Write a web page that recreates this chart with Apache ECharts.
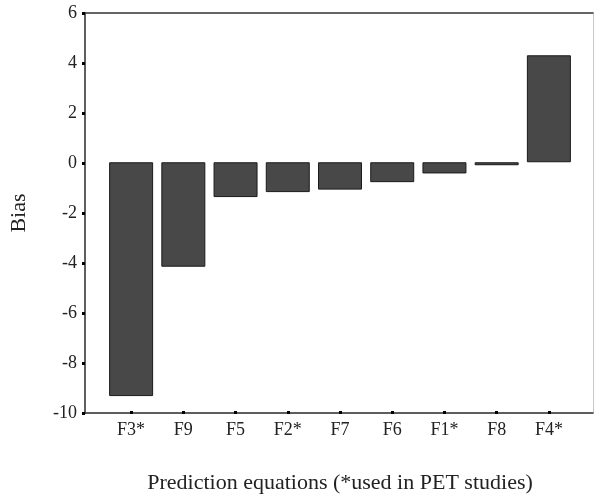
<!DOCTYPE html>
<html><head><meta charset="utf-8">
<script src="https://cdn.jsdelivr.net/npm/echarts@6/dist/echarts.min.js"></script>
<style>html,body{margin:0;padding:0;background:#fff}#c{width:594px;height:499px}</style>
</head><body><div id="c"></div>
<script>
var categories = ["F3*", "F9", "F5", "F2*", "F7", "F6", "F1*", "F8", "F4*"];
var biasValues = [-9.4, -4.2, -1.4, -1.2, -1.1, -0.8, -0.45, -0.12, 4.3];
var yTicks = [-10, -8, -6, -4, -2, 0, 2, 4, 6];
var yTitle = "Bias";
var xTitle = "Prediction equations (*used in PET studies)";

var font = "Liberation Serif";
var chart = echarts.init(document.getElementById('c'), null, {renderer: 'canvas'});
var yMin = yTicks[0], yMax = yTicks[yTicks.length - 1];
chart.setOption({
  animation: false,
  backgroundColor: '#fff',
  grid: [
    {left: 83, right: 1, top: 13, bottom: 86, containLabel: false},
    {left: 105, right: 19, top: 13, bottom: 86, containLabel: false}
  ],
  xAxis: [
    {gridIndex: 0, type: 'value', min: 0, max: 1, position: 'bottom',
     axisLine: {show: true, onZero: false, lineStyle: {color: '#2a2a2a', width: 1.5}},
     axisTick: {show: false}, axisLabel: {show: false}, splitLine: {show: false}},
    {gridIndex: 0, type: 'value', min: 0, max: 1, position: 'top',
     axisLine: {show: true, onZero: false, lineStyle: {color: '#333', width: 1.5}},
     axisTick: {show: false}, axisLabel: {show: false}, splitLine: {show: false}},
    {gridIndex: 1, type: 'category', data: categories, position: 'bottom',
     boundaryGap: true,
     axisLine: {show: false, onZero: false},
     axisTick: {show: true, alignWithLabel: true, length: 3, lineStyle: {color: '#000', width: 3}},
     axisLabel: {margin: 10, fontFamily: font, fontSize: 18, color: '#222'},
     name: xTitle, nameLocation: 'middle', nameGap: 61,
     nameTextStyle: {fontFamily: font, fontSize: 22, color: '#222'}}
  ],
  yAxis: [
    {gridIndex: 0, type: 'value', min: yMin, max: yMax, interval: 2, position: 'left',
     axisLine: {show: true, onZero: false, lineStyle: {color: '#2a2a2a', width: 1.5}},
     axisTick: {show: true, length: 3, lineStyle: {color: '#000', width: 3}},
     axisLabel: {margin: 8, fontFamily: font, fontSize: 18, color: '#222'},
     splitLine: {show: false},
     name: yTitle, nameLocation: 'middle', nameGap: 55,
     nameTextStyle: {fontFamily: font, fontSize: 22, color: '#222'}},
    {gridIndex: 0, type: 'value', min: yMin, max: yMax, interval: 2, position: 'right',
     axisLine: {show: true, onZero: false, lineStyle: {color: '#c8c8c8', width: 1}},
     axisTick: {show: false}, axisLabel: {show: false}, splitLine: {show: false}},
    {gridIndex: 1, type: 'value', min: yMin, max: yMax, interval: 2, show: false}
  ],
  series: [{
    type: 'bar', xAxisIndex: 2, yAxisIndex: 2,
    data: biasValues, barWidth: 44,
    itemStyle: {color: '#484848', borderColor: '#1a1a1a', borderWidth: 1}
  }]
});
</script></body></html>
